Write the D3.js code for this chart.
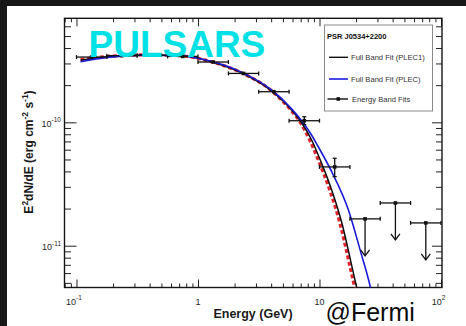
<!DOCTYPE html>
<html>
<head>
<meta charset="utf-8">
<script src="https://cdn.jsdelivr.net/npm/d3@7"></script>
<style>
  html, body { margin: 0; padding: 0; background: #fff; }
  svg { display: block; }
</style>
</head>
<body>
<svg id="chart" width="466" height="326"></svg>
<script>
// ---- Energy band fits (GeV, erg cm^-2 s^-1) ----
const bandLo     = [0.1, 0.178, 0.316, 0.562, 1.0, 1.78, 3.16, 5.62, 10.0];
const bandHi     = [0.178, 0.316, 0.562, 1.0, 1.78, 3.16, 5.62, 10.0, 17.8];
const bandFlux   = [3.38e-10, 3.47e-10, 3.50e-10, 3.42e-10, 3.08e-10, 2.49e-10, 1.77e-10, 1.03e-10, 4.35e-11];
const bandFluxLo = [3.32e-10, 3.41e-10, 3.44e-10, 3.36e-10, 3.02e-10, 2.44e-10, 1.72e-10, 0.96e-10, 3.63e-11];
const bandFluxHi = [3.44e-10, 3.53e-10, 3.56e-10, 3.48e-10, 3.14e-10, 2.54e-10, 1.82e-10, 1.11e-10, 5.11e-11];

// ---- Upper limits in the highest bands ----
const ulLo   = [17.8, 31.6, 56.2];
const ulHi   = [31.6, 56.2, 100];
const ulFlux = [1.65e-11, 2.22e-11, 1.53e-11];

// ---- Full band fit, PLEC1 (black) ----
const plec1E = [0.108, 0.18, 0.385, 0.726, 1.0, 1.285, 2.28, 4.03, 5.89, 7.03, 8.62, 10.4, 12.6, 15.3, 18.5, 20.3, 21.5];
const plec1F = [3.19e-10, 3.40e-10, 3.51e-10, 3.46e-10, 3.30e-10, 3.10e-10, 2.52e-10, 1.80e-10, 1.26e-10, 1.01e-10,
                7.19e-11, 4.66e-11, 2.83e-11, 1.52e-11, 6.77e-12, 4.5e-12, 3.45e-12];

// ---- PLEC1 envelope (red dashed) ----
const plec1EnvE = [0.108, 0.18, 0.385, 0.726, 1.0, 1.285, 2.28, 4.03, 5.80, 6.90, 8.30, 10.01, 12.13, 14.73, 17.81, 19.54, 20.69];
const plec1EnvF = [3.22e-10, 3.42e-10, 3.52e-10, 3.46e-10, 3.30e-10, 3.10e-10, 2.52e-10, 1.80e-10, 1.26e-10, 1.01e-10,
                   7.19e-11, 4.66e-11, 2.83e-11, 1.52e-11, 6.77e-12, 4.5e-12, 3.45e-12];

// ---- Full band fit, PLEC (blue) ----
const plecE = [0.108, 0.18, 0.385, 0.726, 1.0, 1.285, 2.28, 4.03, 5.89, 7.03, 8.4, 9.77, 12.6, 17.3, 22.2, 24.4, 26.3, 28.0];
const plecF = [3.10e-10, 3.36e-10, 3.50e-10, 3.46e-10, 3.31e-10, 3.12e-10, 2.55e-10, 1.83e-10, 1.29e-10, 1.05e-10,
               8.2e-11, 6.34e-11, 3.98e-11, 1.95e-11, 8.41e-12, 6.1e-12, 4.58e-12, 3.5e-12];

// ---- Axis decades and their labels ----
const xMajor = [0.1, 1, 10, 100];
const xLabelBase = ["10", "1", "10", "10"];
const xLabelExp  = ["-1", "", "", "2"];
const yMajor = [1e-11, 1e-10];
const yLabelBase = ["10", "10"];
const yLabelExp  = ["-11", "-10"];

// ---- Legend ----
const legendTitle = "PSR J0534+2200";
const legendLabels = ["Full Band Fit (PLEC1)", "Full Band Fit (PLEC)", "Energy Band Fits"];

const plot = { left: 64.5, right: 442, top: 18.3, bottom: 287.5 };
const svg = d3.select("#chart");
const FONT = "'Liberation Sans', Arial, Helvetica, sans-serif";

// page background and dark border strips
svg.append("rect").attr("x", 0).attr("y", 0).attr("width", 466).attr("height", 326).attr("fill", "#ffffff");
svg.append("rect").attr("x", 0).attr("y", 0).attr("width", 466).attr("height", 6).attr("fill", "#181818");
svg.append("rect").attr("x", 0).attr("y", 0).attr("width", 7).attr("height", 326).attr("fill", "#181818");

const x = d3.scaleLog().domain([0.0797, 101.9]).range([plot.left, plot.right]);
const y = d3.scaleLog().domain([4.585e-12, 6.965e-10]).range([plot.bottom, plot.top]);

const isDecade = v => Math.abs(Math.log10(v) - Math.round(Math.log10(v))) < 1e-9;
const xMinor = x.ticks().filter(v => !isDecade(v));
const yMinor = y.ticks().filter(v => !isDecade(v));

// ---- ticks on all four sides, pointing inward ----
function ticks(axisFn, scale, values, size, transform) {
  const g = svg.append("g").attr("transform", transform).attr("color", "#222")
    .call(axisFn(scale).tickValues(values).tickSize(-size).tickFormat(() => ""));
  g.select(".domain").remove();
  g.selectAll(".tick line").attr("stroke-width", 1);
}
ticks(d3.axisBottom, x, xMinor, 4, `translate(0,${plot.bottom})`);
ticks(d3.axisBottom, x, xMajor, 8, `translate(0,${plot.bottom})`);
ticks(d3.axisTop, x, xMinor, 4, `translate(0,${plot.top})`);
ticks(d3.axisTop, x, xMajor, 8, `translate(0,${plot.top})`);
ticks(d3.axisLeft, y, yMinor, 6.5, `translate(${plot.left},0)`);
ticks(d3.axisLeft, y, yMajor, 12, `translate(${plot.left},0)`);
ticks(d3.axisRight, y, yMinor, 6, `translate(${plot.right},0)`);
ticks(d3.axisRight, y, yMajor, 10, `translate(${plot.right},0)`);

// frame
svg.append("rect")
  .attr("x", plot.left).attr("y", plot.top)
  .attr("width", plot.right - plot.left).attr("height", plot.bottom - plot.top)
  .attr("fill", "none").attr("stroke", "#151515").attr("stroke-width", 1.4);

// ---- tick labels ----
const xl = svg.append("g").attr("font-family", FONT).attr("fill", "#262626");
xMajor.forEach((v, i) => {
  const t = xl.append("text").attr("x", x(v) + (xLabelExp[i] ? -2.5 : 0)).attr("y", 304.5)
    .attr("text-anchor", "middle").attr("font-size", 9);
  t.append("tspan").text(xLabelBase[i]);
  if (xLabelExp[i]) t.append("tspan").attr("font-size", 6.5).attr("dy", -4.4).text(xLabelExp[i]);
});
const yl = svg.append("g").attr("font-family", FONT).attr("fill", "#262626");
yMajor.forEach((v, i) => {
  const t = yl.append("text").attr("x", 61).attr("y", y(v) + 4.6)
    .attr("text-anchor", "end").attr("font-size", 9);
  t.append("tspan").text(yLabelBase[i]);
  t.append("tspan").attr("font-size", 6.5).attr("dy", -4.6).text(yLabelExp[i]);
});

// ---- axis titles ----
svg.append("text").attr("x", 253).attr("y", 318).attr("text-anchor", "middle")
  .attr("font-family", FONT).attr("font-weight", "bold").attr("font-size", 12.5).attr("fill", "#1a1a1a")
  .text("Energy (GeV)");

const yt = svg.append("text").attr("transform", "translate(33,152) rotate(-90)").attr("text-anchor", "middle")
  .attr("font-family", FONT).attr("font-weight", "bold").attr("font-size", 12).attr("fill", "#1a1a1a");
yt.append("tspan").text("E");
yt.append("tspan").attr("font-size", 8.5).attr("dy", -5).text("2");
yt.append("tspan").attr("dy", 5).text("dN/dE (erg cm");
yt.append("tspan").attr("font-size", 8.5).attr("dy", -5).text("-2");
yt.append("tspan").attr("dy", 5).text(" s");
yt.append("tspan").attr("font-size", 8.5).attr("dy", -5).text("-1");
yt.append("tspan").attr("dy", 5).text(")");

// ---- fit curves ----
svg.append("clipPath").attr("id", "plotClip").append("rect")
  .attr("x", plot.left).attr("y", plot.top)
  .attr("width", plot.right - plot.left).attr("height", plot.bottom - plot.top);
const curves = svg.append("g").attr("clip-path", "url(#plotClip)");
const line = d3.line().x(d => x(d[0])).y(d => y(d[1])).curve(d3.curveMonotoneX);
const zip = (a, b) => a.map((v, i) => [v, b[i]]);

curves.append("path").attr("d", line(zip(plec1EnvE, plec1EnvF)))
  .attr("fill", "none").attr("stroke", "#e3262b").attr("stroke-width", 3.2).attr("stroke-dasharray", "4,2.5");
curves.append("path").attr("d", line(zip(plec1E, plec1F)))
  .attr("fill", "none").attr("stroke", "#111").attr("stroke-width", 1.5);
curves.append("path").attr("d", line(zip(plecE, plecF)))
  .attr("fill", "none").attr("stroke", "#1c1cd8").attr("stroke-width", 1.6);

// ---- energy band points with error bars ----
const pts = svg.append("g").attr("stroke", "#111").attr("stroke-width", 1.3).attr("fill", "#111");
bandFlux.forEach((f, i) => {
  const c = Math.sqrt(bandLo[i] * bandHi[i]);
  const px = x(c), py = y(f);
  const x0 = x(bandLo[i]), x1 = x(bandHi[i]);
  pts.append("line").attr("x1", x0).attr("x2", x1).attr("y1", py).attr("y2", py);
  pts.append("line").attr("x1", x0).attr("x2", x0).attr("y1", py - 2).attr("y2", py + 2);
  pts.append("line").attr("x1", x1).attr("x2", x1).attr("y1", py - 2).attr("y2", py + 2);
  const yh = y(bandFluxHi[i]), ylo = y(bandFluxLo[i]);
  pts.append("line").attr("x1", px).attr("x2", px).attr("y1", yh).attr("y2", ylo);
  if (ylo - yh > 6) {
    pts.append("line").attr("x1", px - 2).attr("x2", px + 2).attr("y1", yh).attr("y2", yh);
    pts.append("line").attr("x1", px - 2).attr("x2", px + 2).attr("y1", ylo).attr("y2", ylo);
  }
  pts.append("rect").attr("x", px - 1.8).attr("y", py - 1.8).attr("width", 3.6).attr("height", 3.6).attr("stroke", "none");
});

// ---- upper limits ----
const arrowLen = 37;
ulFlux.forEach((f, i) => {
  const c = Math.sqrt(ulLo[i] * ulHi[i]);
  const px = x(c), py = y(f);
  const x0 = x(ulLo[i]), x1 = x(ulHi[i]);
  pts.append("line").attr("x1", x0).attr("x2", x1).attr("y1", py).attr("y2", py);
  pts.append("line").attr("x1", x0).attr("x2", x0).attr("y1", py - 2).attr("y2", py + 2);
  pts.append("line").attr("x1", x1).attr("x2", x1).attr("y1", py - 2).attr("y2", py + 2);
  pts.append("line").attr("x1", px).attr("x2", px).attr("y1", py).attr("y2", py + arrowLen);
  pts.append("path").attr("fill", "none")
    .attr("d", `M${px - 4.5},${py + arrowLen - 6}L${px},${py + arrowLen}L${px + 4.5},${py + arrowLen - 6}`);
  pts.append("rect").attr("x", px - 1.8).attr("y", py - 1.8).attr("width", 3.6).attr("height", 3.6).attr("stroke", "none");
});

// ---- legend ----
const lg = svg.append("g").attr("font-family", FONT);
lg.append("rect").attr("x", 324.5).attr("y", 25).attr("width", 108).attr("height", 86)
  .attr("fill", "#fff").attr("stroke", "#8a8a8a").attr("stroke-width", 1);
lg.append("text").attr("x", 327).attr("y", 39).attr("font-size", 7.5).attr("font-weight", "bold")
  .attr("fill", "#111").text(legendTitle);
const rowY = [57.3, 79, 99];
const rowColor = ["#111", "#4a4ae8", "#111"];
const rowWidth = [1.4, 2, 1.4];
legendLabels.forEach((lab, i) => {
  lg.append("line").attr("x1", i === 2 ? 327.5 : 329).attr("x2", 348).attr("y1", rowY[i]).attr("y2", rowY[i])
    .attr("stroke", rowColor[i]).attr("stroke-width", rowWidth[i]);
  if (i === 2) lg.append("rect").attr("x", 336.5).attr("y", rowY[i] - 1.8).attr("width", 3.6).attr("height", 3.6).attr("fill", "#111");
  lg.append("text").attr("x", i === 2 ? 352 : 351).attr("y", rowY[i] + 2.7).attr("font-size", 7.6)
    .attr("fill", "#333").text(lab);
});

// ---- overlay captions ----
svg.append("text").attr("x", 88.5).attr("y", 57.3)
  .attr("font-family", FONT).attr("font-weight", "bold").attr("font-size", 37)
  .attr("fill", "#00e1e6").text("PULSARS");
svg.append("text").attr("x", 325.5).attr("y", 320.7)
  .attr("font-family", FONT).attr("font-size", 25).attr("fill", "#0a0a0a").text("@Fermi");
</script>
</body>
</html>
